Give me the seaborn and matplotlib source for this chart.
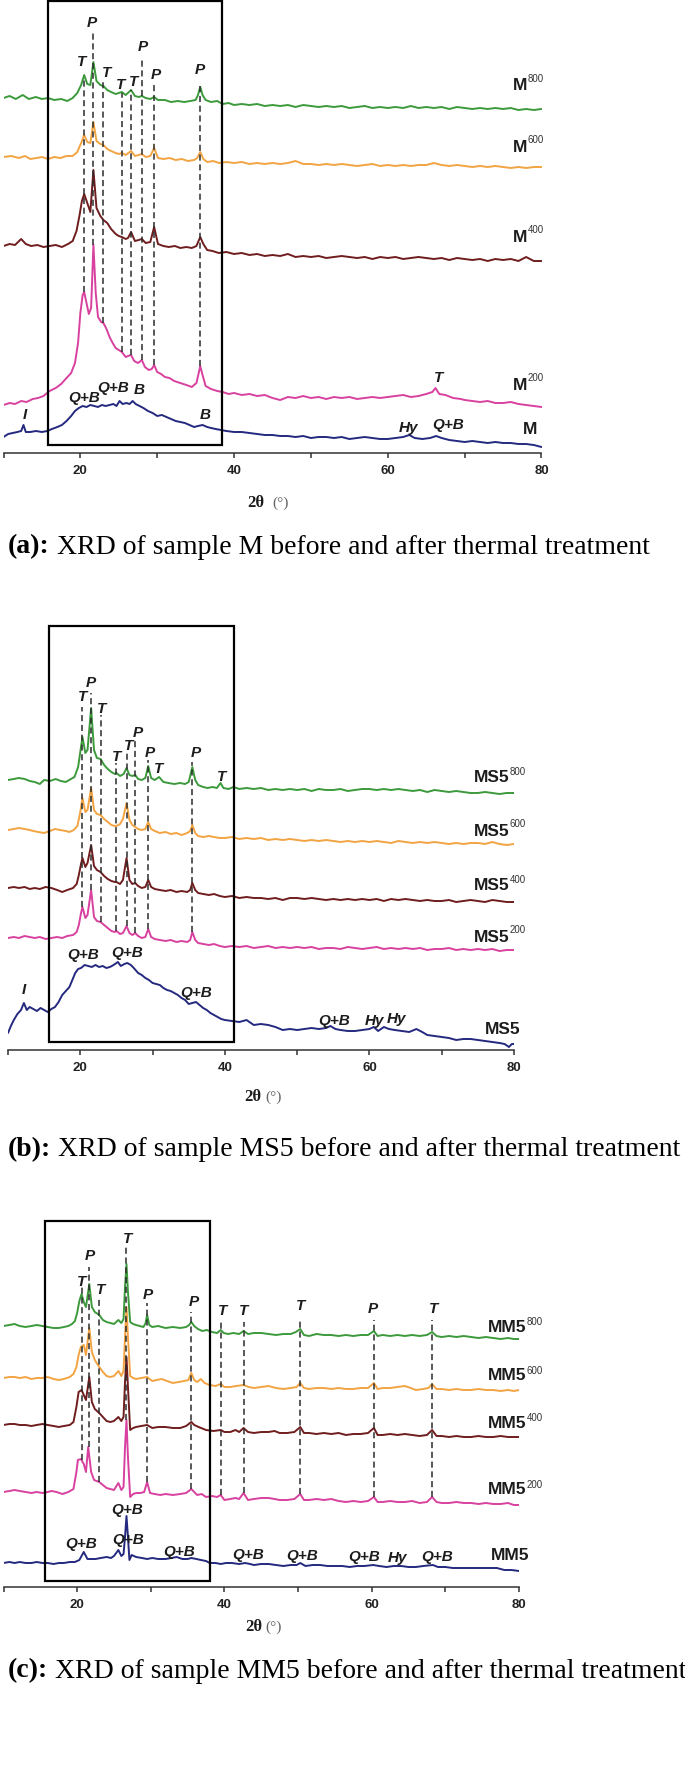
import matplotlib
matplotlib.use("Agg")
import matplotlib.pyplot as plt
import seaborn as sns
import pandas as pd
from matplotlib.patches import Rectangle

sns.set_theme(style="white")
plt.rcParams["font.family"] = ["Liberation Sans", "DejaVu Sans"]

# ---------------------------------------------------------------- data
# each pattern: (2theta in degrees, stacked intensity in arbitrary units)
A_M800 = [(10,355),(10.8,357),(11.6,354),(12.5,358),(13.3,354),(14.2,356),(15,354),(15.8,355),(16.6,353),(17.5,354),(18.3,352),(19,355),(19.6,360),(20.1,368),(20.5,378),(20.9,369),(21.3,368),(21.7,391),(22.1,372),(22.6,368),(23.0,367),(23.5,363),(24,361),(24.6,359),(25,360),(25.4,361),(25.9,358),(26.6,363),(27.1,357),(27.6,356),(28.0,357),(28.5,355),(29.1,354),(29.6,356),(30.1,353),(31,353),(31.8,351),(32.7,352),(33.5,351),(34.3,352),(35,353),(35.3,358),(35.6,366),(35.9,358),(36.3,353),(37,351),(37.8,352),(38.5,349),(39.3,350),(40,348),(41,349),(42,348),(43,349),(44,347),(45,348),(46,347),(47,348),(48,346),(49,348),(50,347),(51,346),(52,347),(53,346),(54,347),(55,345),(56,346),(57,347),(58,345),(59,346),(60,345),(61,346),(62,345),(63,347),(64,345),(65,346),(66,345),(67,346),(68,344),(69,346),(70,345),(71,344),(72,345),(73,344),(74,345),(75,344),(76,345),(77,343),(78,344),(79,343),(80,344)]
A_M600 = [(10,296),(11,297),(12,295),(12.8,297),(13.5,294),(14.3,295),(15,296),(15.8,294),(16.6,296),(17.4,295),(18.2,297),(19,297),(19.6,301),(20.1,310),(20.5,318),(20.9,311),(21.3,310),(21.7,331),(22.1,312),(22.6,309),(23.0,308),(23.5,304),(24,302),(24.6,300),(25,299),(25.4,300),(25.9,298),(26.6,302),(27.1,297),(27.6,298),(28.0,299),(28.5,296),(29.1,297),(29.6,305),(30.1,295),(30.8,294),(31.6,295),(32.4,293),(33.2,294),(34,292),(34.8,293),(35.2,295),(35.6,301),(36,294),(36.5,291),(37.3,292),(38,290),(39,291),(40,290),(41,291),(42,289),(43,290),(44,289),(45,290),(46,289),(47,290),(48,292),(49,289),(50,289),(51,288),(52,289),(53,288),(54,289),(55,288),(56,287),(57,288),(58,289),(59,287),(60,288),(61,287),(62,288),(63,287),(64,288),(65,288),(66,290),(67,288),(68,287),(69,288),(70,287),(71,286),(72,287),(73,286),(74,287),(75,286),(76,285),(77,286),(78,285),(79,286),(80,286)]
A_M400 = [(10,207),(10.8,209),(11.5,208),(12.3,214),(12.9,209),(13.6,207),(14.4,208),(15.2,206),(16,207),(16.8,208),(17.6,206),(18.4,209),(19,212),(19.5,222),(19.9,238),(20.2,252),(20.5,259),(20.9,250),(21.3,241),(21.7,283),(22.1,245),(22.6,237),(23.0,233),(23.5,230),(24,224),(24.6,219),(25,217),(25.4,216),(25.9,214),(26.2,215),(26.6,221),(27.1,212),(27.6,213),(28.0,214),(28.5,210),(29.1,211),(29.6,226),(30.1,209),(30.8,207),(31.5,206),(32.3,207),(33,205),(33.8,206),(34.5,205),(35.1,207),(35.6,216),(36,209),(36.5,203),(37.2,202),(38,200),(39,201),(40,199),(41,200),(42,198),(43,199),(44,197),(45,198),(46,197),(47,199),(48,196),(49,197),(50,196),(51,197),(52,195),(53,196),(54,197),(55,196),(56,195),(57,196),(58,194),(59,196),(60,195),(61,196),(62,194),(63,195),(64,196),(65,195),(66,194),(67,195),(68,193),(69,195),(70,194),(71,193),(72,194),(73,192),(74,194),(75,193),(76,194),(77,192),(78,196),(79,192),(80,192)]
A_M200 = [(10,48),(10.8,50),(11.5,49),(12.3,52),(13,51),(13.8,54),(14.5,55),(15.2,57),(16,62),(16.8,65),(17.5,69),(18.2,75),(18.8,80),(19.3,90),(19.7,110),(20.0,140),(20.3,158),(20.5,161),(20.8,150),(21.1,139),(21.4,145),(21.7,208),(22.0,160),(22.3,136),(22.7,131),(23.0,130),(23.4,124),(23.8,116),(24.2,110),(24.6,105),(25,103),(25.4,101),(25.9,96),(26.2,97),(26.6,98),(27.0,92),(27.5,90),(28.0,93),(28.4,86),(28.9,83),(29.3,84),(29.6,88),(30.0,81),(30.5,79),(31,76),(31.6,75),(32.2,72),(33,70),(33.8,68),(34.5,66),(35.1,70),(35.4,80),(35.6,87),(35.9,78),(36.3,67),(37,64),(37.8,62),(38.5,61),(39.3,59),(40,60),(41,58),(42,59),(43,57),(44,58),(45,55),(46,53),(47,56),(48,55),(49,57),(50,55),(51,56),(52,54),(53,56),(54,55),(55,56),(56,54),(57,55),(58,56),(59,55),(60,56),(61,57),(62,58),(63,56),(64,57),(65,59),(65.8,61),(66.2,65),(66.7,59),(67.5,58),(68.5,55),(69.5,54),(70,53),(71,52),(72,51),(73,52),(74,50),(75,50),(76,51),(77,49),(78,48),(79,47),(80,46)]
A_M = [(10,16),(10.6,19),(11.2,20),(11.8,21),(12.3,22),(12.6,28),(12.9,21),(13.5,21),(14.2,22),(15,21),(15.7,22),(16.3,24),(17,26),(17.6,28),(18.2,32),(18.8,37),(19.3,42),(19.8,45),(20.3,47),(20.8,46),(21.3,48),(21.8,47),(22.3,46),(22.8,48),(23.3,47),(23.8,48),(24.3,49),(24.7,47),(25.1,52),(25.5,49),(26.0,50),(26.4,49),(26.8,52),(27.2,49),(27.7,47),(28.2,45),(28.8,42),(29.4,40),(30,37),(30.6,38),(31.2,36),(31.8,34),(32.4,32),(33,31),(33.6,30),(34.2,28),(34.8,26),(35.3,27),(35.9,28),(36.5,26),(37,25),(37.6,24),(38.3,23),(39,22),(40,21),(41,21),(42,20),(43,19),(44,18),(45,18),(46,17),(47,17),(48,16),(49,17),(50,15),(51,16),(52,16),(53,15),(54,16),(55,14),(56,15),(57,16),(58,15),(59,14),(60,14),(61,15),(62,16),(62.8,18),(63.5,15),(64.5,14),(65.5,15),(66.3,17),(67,15),(68,13),(69,12),(70,11),(71,12),(72,11),(73,10),(74,11),(75,10),(76,10),(77,9),(78,9),(79,8),(80,6)]

B_MS800 = [(10,270),(10.8,271),(11.5,272),(12.3,271),(13,269),(13.7,268),(14.4,266),(15,270),(15.8,269),(16.6,271),(17.3,269),(18,268),(18.7,271),(19.2,273),(19.7,283),(20.0,298),(20.3,313),(20.7,297),(21.0,300),(21.5,342),(21.9,300),(22.3,292),(22.8,291),(23.3,285),(23.8,281),(24.3,278),(24.8,276),(25.0,277),(25.5,274),(26.0,276),(26.4,282),(26.8,275),(27.2,274),(27.6,275),(28.0,271),(28.5,270),(29.0,272),(29.4,284),(29.8,272),(30.3,270),(30.9,273),(31.5,268),(32.2,267),(33,266),(33.8,267),(34.5,266),(35.0,268),(35.5,283),(35.9,270),(36.3,265),(37,263),(37.6,262),(38.3,263),(38.9,262),(39.4,267),(39.8,262),(40.5,261),(41.2,263),(42,261),(43,262),(44,261),(45,262),(46,260),(47,261),(48,260),(49,261),(50,260),(51,261),(52,259),(53,261),(54,260),(55,260),(56,261),(57,259),(58,260),(59,261),(60,261),(61,260),(62,261),(63,260),(64,261),(65,260),(66,259),(67,260),(68,258),(69,260),(70,259),(71,258),(72,259),(73,258),(74,257),(75,257),(76,258),(77,257),(78,256),(79,257),(80,257)]
B_MS600 = [(10,220),(10.8,221),(11.5,222),(12.3,221),(13,220),(13.5,219),(14.2,218),(15,217),(15.8,219),(16.5,221),(17.2,220),(18,219),(18.5,218),(19.1,220),(19.6,224),(20.0,238),(20.3,252),(20.7,238),(21.0,240),(21.5,262),(21.9,240),(22.3,236),(22.8,235),(23.3,231),(23.8,228),(24.3,225),(24.8,224),(25.0,224),(25.5,226),(25.9,231),(26.4,247),(26.8,230),(27.2,225),(27.6,223),(28.0,221),(28.5,220),(29.0,221),(29.4,228),(29.8,221),(30.3,219),(31,217),(31.8,218),(32.5,216),(33.3,217),(34,215),(34.8,217),(35.2,219),(35.5,225),(35.9,217),(36.3,214),(37,213),(37.8,214),(38.5,213),(39.3,212),(40,212),(41,213),(42,211),(43,212),(44,211),(45,212),(46,210),(47,211),(48,210),(49,211),(50,210),(51,209),(52,210),(53,209),(54,210),(55,209),(56,208),(57,209),(58,208),(59,209),(60,208),(61,209),(62,208),(63,207),(64,209),(65,208),(66,207),(67,208),(68,207),(69,208),(70,207),(71,206),(72,207),(73,206),(74,207),(75,207),(76,206),(77,208),(78,206),(79,205),(80,206)]
B_MS400 = [(10,162),(10.8,163),(11.5,162),(12.3,163),(13,161),(13.7,162),(14.4,161),(15.2,163),(16,162),(16.8,160),(17.5,158),(18.2,160),(19,162),(19.5,166),(19.8,175),(20.1,186),(20.3,192),(20.7,183),(21.0,187),(21.5,205),(21.9,184),(22.3,180),(22.8,178),(23.3,174),(23.8,171),(24.3,169),(24.8,168),(25.0,168),(25.5,166),(25.9,170),(26.4,192),(26.8,170),(27.2,166),(27.6,167),(28.0,164),(28.5,162),(29.0,163),(29.4,170),(29.8,163),(30.3,161),(31,160),(31.8,159),(32.5,160),(33.3,158),(34,159),(34.8,158),(35.2,160),(35.5,167),(35.9,160),(36.3,157),(37,156),(37.8,155),(38.5,156),(39.3,154),(40,153),(41,154),(42,152),(43,153),(44,152),(45,152),(46,151),(47,152),(48,150),(49,152),(50,152),(51,151),(52,152),(53,151),(54,150),(55,151),(56,150),(57,151),(58,150),(59,151),(60,150),(61,151),(62,149),(63,151),(64,150),(65,151),(66,150),(67,149),(68,150),(69,149),(70,149),(71,150),(72,148),(73,149),(74,150),(75,149),(76,148),(77,150),(78,149),(79,148),(80,148)]
B_MS200 = [(10,112),(10.8,113),(11.5,112),(12.3,114),(13,113),(13.7,112),(14.4,113),(15.2,111),(16,112),(16.8,113),(17.5,112),(18.2,114),(19,115),(19.5,118),(19.8,125),(20.1,137),(20.3,143),(20.7,132),(21.0,135),(21.5,160),(21.9,133),(22.3,129),(22.8,128),(23.3,125),(23.8,122),(24.3,119),(24.8,118),(25.0,119),(25.5,116),(25.9,117),(26.4,124),(26.8,117),(27.2,115),(27.6,117),(28.0,114),(28.5,112),(29.0,113),(29.4,121),(29.8,113),(30.3,111),(31,110),(31.8,109),(32.5,110),(33.3,108),(34,109),(34.8,108),(35.2,110),(35.5,118),(35.9,110),(36.3,107),(37,106),(37.8,105),(38.5,106),(39.3,104),(40,103),(41,104),(42,103),(43,104),(44,102),(45,103),(46,104),(47,102),(48,103),(49,102),(50,103),(51,102),(52,103),(53,101),(54,102),(55,102),(56,101),(57,103),(58,102),(59,101),(60,102),(61,103),(62,101),(63,102),(64,101),(65,102),(66,101),(67,102),(68,100),(69,101),(70,101),(71,102),(72,100),(73,101),(74,100),(75,101),(76,100),(77,101),(78,99),(79,100),(80,100)]
B_MS5 = [(10,17),(10.4,24),(10.8,30),(11.3,36),(11.8,40),(12.2,47),(12.6,40),(13.0,43),(13.5,41),(14.0,39),(14.5,42),(15.0,40),(15.5,38),(16.0,41),(16.5,43),(17.0,48),(17.5,55),(18.0,59),(18.5,63),(18.9,70),(19.3,77),(19.7,81),(20.1,82),(20.6,85),(21.1,84),(21.6,83),(22.1,85),(22.6,83),(23.1,84),(23.6,82),(24.1,83),(24.6,85),(25.2,88),(25.6,84),(26.1,86),(26.5,87),(27.0,85),(27.4,82),(28.0,77),(28.5,75),(29.0,72),(29.5,70),(30.0,67),(30.5,66),(31.0,65),(31.5,62),(32.0,60),(32.5,59),(33.0,57),(33.5,55),(34.0,52),(34.5,50),(35.0,46),(35.5,47),(36.0,48),(36.5,45),(37.0,42),(37.5,40),(38.0,37),(38.5,35),(39.0,33),(39.5,31),(40.0,30),(41,29),(42,28),(43,30),(44,25),(45,26),(46,25),(47,23),(48,20),(49,21),(50,20),(51,21),(52,22),(53,21),(54,22),(54.6,24),(55.3,21),(56,20),(57,19),(58,19),(59,20),(60,21),(60.6,23),(61.2,19),(62,23),(62.7,21),(63.5,20),(64.5,19),(65.5,18),(66.5,21),(67.3,18),(68,15),(69,14),(70,13),(71,12),(72,10),(73,11),(74,11),(75,10),(76,9),(77,8),(78,7),(78.7,6),(79.3,3),(79.7,6),(80,6)]

C_MM800 = [(10,261),(10.8,262),(11.5,263),(12.2,261),(13,260),(13.8,261),(14.5,262),(15.3,261),(16,260),(16.8,259),(17.5,259),(18.2,260),(18.8,261),(19.3,263),(19.7,266),(20.0,274),(20.3,286),(20.6,293),(20.9,285),(21.2,280),(21.65,303),(22.0,280),(22.4,275),(23.0,272),(23.5,267),(24.0,265),(24.5,264),(25.0,263),(25.6,267),(26.0,264),(26.3,268),(26.5,300),(26.7,323),(26.9,295),(27.2,265),(27.6,263),(28,262),(28.5,261),(29.0,260),(29.3,264),(29.5,272),(29.8,262),(30.2,260),(31,261),(32,259),(33,260),(34,259),(34.8,260),(35.2,262),(35.5,265),(35.9,261),(36.4,258),(37,256),(37.6,257),(38.3,255),(39,254),(39.5,257),(39.9,254),(40.5,253),(41.2,254),(42,253),(42.6,256),(43.2,253),(44,254),(45,254),(46,253),(47,252),(48,253),(49,253),(49.7,255),(50.3,258),(50.8,252),(51.5,251),(52.5,253),(53.5,252),(54.5,252),(55.5,251),(56.5,252),(57.5,251),(58.5,252),(59.5,252),(60.3,256),(60.8,251),(61.5,252),(62.5,251),(63.5,252),(64.5,251),(65.5,252),(66.5,251),(67.5,252),(68.2,255),(68.8,251),(69.5,250),(70.5,251),(71.5,250),(72.5,251),(73.5,250),(74.5,249),(75.5,250),(76.5,249),(77.5,248),(78.5,249),(79.3,248),(80,248)]
C_MM600 = [(10,209),(10.8,210),(11.5,210),(12.2,209),(13,210),(13.8,208),(14.5,209),(15.3,209),(16,210),(16.8,208),(17.5,207),(18.2,208),(19.0,210),(19.5,213),(19.9,220),(20.2,232),(20.5,240),(20.9,242),(21.2,232),(21.65,259),(22.0,235),(22.4,227),(23.0,220),(23.5,215),(24,211),(24.5,210),(25,211),(25.6,216),(26.0,211),(26.3,216),(26.5,250),(26.7,280),(26.9,250),(27.2,211),(27.6,209),(28,208),(28.7,209),(29.5,210),(30.2,206),(30.8,207),(31.5,208),(32.2,206),(33,204),(33.8,205),(34.5,206),(35.1,207),(35.5,214),(35.9,207),(36.3,205),(36.8,208),(37.3,204),(38,202),(38.8,201),(39.5,203),(40,200),(40.8,200),(41.6,201),(42.6,202),(43.3,200),(44,199),(45,200),(46,201),(47,199),(48,198),(49,199),(49.8,200),(50.3,204),(50.8,199),(51.5,198),(52.5,199),(53.5,199),(54.5,198),(55.5,199),(56.5,198),(57.5,198),(58.5,199),(59.5,199),(60.3,204),(60.8,198),(61.5,199),(62.5,199),(63.5,200),(64.5,201),(65.3,199),(66,197),(67,198),(67.7,199),(68.2,203),(68.8,198),(69.5,198),(70.5,197),(71.5,198),(72.5,197),(73.5,197),(74.5,198),(75.5,197),(76.5,197),(77.5,196),(78.5,197),(79.3,196),(80,197)]
C_MM400 = [(10,162),(10.8,163),(11.5,163),(12.2,162),(13,162),(13.8,161),(14.5,162),(15.3,163),(16,162),(16.8,161),(17.5,160),(18.2,161),(19.0,162),(19.5,165),(19.9,180),(20.2,195),(20.6,197),(20.9,192),(21.2,187),(21.65,210),(22.0,185),(22.4,178),(23.0,174),(23.5,170),(24,166),(24.5,165),(25,166),(25.6,170),(26.0,166),(26.3,170),(26.5,205),(26.7,230),(26.9,200),(27.2,157),(27.6,159),(28,160),(28.7,161),(29.5,162),(30.2,159),(31,160),(32,160),(33,159),(34,159),(34.8,161),(35.5,165),(35.9,162),(36.5,160),(37.5,157),(38.5,156),(39.5,157),(40,155),(40.8,155),(41.5,157),(42.0,155),(42.6,159),(43.2,155),(44,154),(45,155),(46,155),(46.8,156),(47.5,154),(48.5,154),(49.5,155),(50.3,160),(50.8,154),(51.5,154),(52.5,153),(53.5,154),(54.5,153),(55.5,154),(56.5,152),(57.5,153),(58.5,153),(59.5,154),(60.3,159),(60.8,152),(61.5,152),(62.5,153),(63.5,152),(64.5,153),(65.5,152),(66.5,151),(67.5,152),(68.2,157),(68.8,151),(69.5,151),(70.5,150),(71.5,151),(72.5,150),(73.5,150),(74.5,151),(75.5,150),(76.5,150),(77.5,151),(78.5,150),(79.3,150),(80,150)]
C_MM200 = [(10,95),(10.8,96),(11.5,97),(12.2,96),(13,95),(13.8,94),(14.5,95),(15.3,94),(16,95),(16.5,96),(17.2,95),(18,93),(18.8,95),(19.5,98),(19.9,115),(20.1,127),(20.5,128),(20.9,123),(21.2,115),(21.5,140),(21.9,115),(22.3,107),(23.0,105),(23.5,102),(24,99),(24.5,98),(25,97),(25.6,104),(26.0,97),(26.3,100),(26.5,140),(26.7,167),(26.9,130),(27.2,90),(27.6,93),(28,94),(28.6,94),(29.1,95),(29.5,105),(29.9,94),(30.5,93),(31.3,92),(32,93),(33,92),(34,93),(34.8,94),(35.5,98),(35.9,95),(36.3,92),(36.9,93),(37.5,90),(38.3,91),(39,90),(39.5,92),(40,87),(40.8,88),(41.5,89),(42.0,88),(42.6,94),(43.2,87),(44,88),(45,89),(46,89),(46.8,88),(47.5,87),(48.5,87),(49.5,88),(50.3,93),(50.8,87),(51.5,87),(52.5,88),(53.5,87),(54.5,88),(55.5,86),(56.5,85),(57.5,86),(58.5,85),(59.5,86),(60.3,90),(60.8,85),(61.5,85),(62.5,86),(63.5,85),(64.5,85),(65.5,86),(66.5,84),(67.5,85),(68.2,90),(68.8,85),(69.5,84),(70.5,84),(71.5,85),(72.5,84),(73.5,84),(74.5,83),(75.5,84),(76.5,83),(77.5,83),(78.5,84),(79.3,82),(80,82)]
C_MM5 = [(10,24),(10.8,25),(11.5,24),(12.2,25),(13,24),(13.8,24),(14.5,25),(15.3,24),(16,24),(16.8,23),(17.5,24),(18.2,24),(19,25),(19.7,25),(20.3,27),(20.9,35),(21.4,28),(22.0,28),(22.5,28),(23.2,29),(24,30),(24.6,29),(25,31),(25.6,37),(26.0,31),(26.3,33),(26.5,50),(26.7,71),(26.9,50),(27.1,27),(27.4,32),(28,30),(28.8,29),(29.5,28),(30.2,29),(31,28),(32,28),(32.8,29),(33.5,30),(34.3,28),(35,28),(35.5,29),(36.2,28),(36.8,27),(37.5,26),(38,24),(38.8,24),(39.5,23),(40.2,24),(41,24),(42,23),(42.8,24),(43.5,23),(44,22),(45,23),(46,23),(47,22),(48,21),(49,22),(49.8,22),(50.3,24),(51,21),(52,22),(53,22),(54,21),(55,21),(56,21),(57,20),(58,21),(59,21),(60.2,22),(61,21),(62,20),(63,21),(64,21),(65,20),(66,20),(67,21),(68.3,22),(69,20),(70,20),(71,19),(72,19),(73,19),(74,19),(75,19),(76,19),(77,19),(78,17),(79,17),(80,16)]

# reflection markers: (x in degrees, upper end, lower end)
A_DROP = [(20.5,373,161),(21.7,420,208),(23.0,373,130),(25.4,360,101),(26.6,363,98),(28.0,393,93),(29.6,370,88),(35.6,368,87)]
B_DROP = [(20.3,343,143),(21.5,357,160),(22.8,335,128),(25.0,287,119),(26.4,297,124),(27.6,310,117),(29.4,290,121),(35.5,288,118)]
C_DROP = [(20.7,300,127),(21.65,320,140),(23.0,290,105),(26.7,340,167),(29.5,284,105),(35.5,275,98),(39.5,265,92),(42.6,265,94),(50.3,267,93),(60.3,267,90),(68.2,267,90)]

# phase labels: (text, x in degrees, height)
A_PHASE = [("T",20.2,391),("P",21.5,430),("T",23.4,380),("T",25.3,368),("T",26.9,371),("P",28.1,406),("P",29.8,378),("P",35.5,383),
           ("T",66.6,75),("Q+B",20.5,55),("Q+B",24.3,65),("B",27.6,63),("B",36.3,38),("I",12.8,38),("Hy",62.7,25),("Q+B",67.8,28)]
B_PHASE = [("T",20.3,353),("P",21.5,367),("T",23.0,341),("T",25.0,293),("T",26.7,304),("P",27.9,317),("P",29.6,297),("T",30.9,281),
           ("P",36.0,297),("T",39.5,273),("Q+B",20.4,95),("Q+B",26.5,97),("Q+B",36.0,57),("I",12.2,60),("Q+B",55.1,29),
           ("Hy",60.7,29),("Hy",63.7,31)]
C_PHASE = [("T",20.6,305),("P",21.7,331),("T",23.2,297),("T",26.8,348),("P",29.6,292),("P",35.8,285),("T",39.7,276),("T",42.6,276),
           ("T",50.4,281),("P",60.1,278),("T",68.4,278),("Q+B",20.6,43),("Q+B",26.8,77),("Q+B",26.9,47),("Q+B",33.8,35),
           ("Q+B",43.2,32),("Q+B",50.5,31),("Q+B",59.0,30),("Hy",63.5,29),("Q+B",68.9,30)]

# curve names: (name, temperature superscript, label height, superscript height)
A_NAMES = [("M","800",367,374),("M","600",306,313),("M","400",215,223),("M","200",67,75),("M","",23,23)]
B_NAMES = [("MS5","800",272,278),("MS5","600",219,226),("MS5","400",164,170),("MS5","200",113,120),("MS5","",21,21)]
C_NAMES = [("MM5","800",260,265),("MM5","600",211,216),("MM5","400",164,169),("MM5","200",97,102),("MM5","",32,32)]

A_BOX = (15.85, 38.4, 8, 452)
B_BOX = (15.7, 41.3, 8, 424)
C_BOX = (15.6, 38.1, 6, 366)

CAPTIONS = [("(a):", " XRD of sample M before and after thermal treatment"),
            ("(b):", " XRD of sample MS5 before and after thermal treatment"),
            ("(c):", " XRD of sample MM5 before and after thermal treatment")]

MAJOR_TICKS = [20, 40, 60, 80]
MINOR_TICKS = [10, 30, 50, 70]

# ---------------------------------------------------------------- styling
W, H = 685, 1775
COLORS = ["#3c9a3c", "#f2a443", "#6f1d1e", "#d8419f", "#24297f"]
SANS = ["Liberation Sans", "DejaVu Sans"]
SERIF = ["Liberation Serif", "DejaVu Serif"]

fig = plt.figure(figsize=(W / 100, H / 100), dpi=100)
fig.patch.set_facecolor("white")

panels = [
    dict(px=(3.5, 541.5, 453, 0), curves=[A_M800, A_M600, A_M400, A_M200, A_M], drops=A_DROP, phases=A_PHASE,
         names=A_NAMES, name_x=(78.2, 79.5), box=A_BOX, xlab=(264, 272, 503), cap_y=547),
    dict(px=(8, 514, 1050, 610), curves=[B_MS800, B_MS600, B_MS400, B_MS200, B_MS5], drops=B_DROP, phases=B_PHASE,
         names=B_NAMES, name_x=(79.4, 80.9), box=B_BOX, xlab=(261, 265, 1097), cap_y=1150),
    dict(px=(3.5, 519, 1587, 1210), curves=[C_MM800, C_MM600, C_MM400, C_MM200, C_MM5], drops=C_DROP, phases=C_PHASE,
         names=C_NAMES, name_x=(81.0, 81.4), box=C_BOX, xlab=(262, 265, 1627), cap_y=1671),
]

renderer = fig.canvas.get_renderer()

for i, p in enumerate(panels):
    L, R, Y0, T = p["px"]
    ax = fig.add_axes([L / W, 1 - Y0 / H, (R - L) / W, (Y0 - T) / H])
    ax.patch.set_alpha(0)
    ax.set_xlim(10, 80)
    ax.set_ylim(0, Y0 - T)

    rows = []
    for k, pts in enumerate(p["curves"]):
        for x, y in pts:
            rows.append((f"s{k}", x, y))
    df = pd.DataFrame(rows, columns=["sample", "deg", "h"])
    sns.lineplot(data=df, x="deg", y="h", hue="sample", palette=dict(zip([f"s{k}" for k in range(5)], COLORS)),
                 estimator=None, sort=False, legend=False, lw=1.4, ax=ax, zorder=3)

    xs = [d[0] for d in p["drops"]]
    ax.vlines(xs, [d[2] for d in p["drops"]], [d[1] for d in p["drops"]], colors="#2b2b2b",
              linestyles=(0, (4.0, 2.4)), lw=1.1, zorder=4)

    x0, x1, y0, y1 = p["box"]
    ax.add_patch(Rectangle((x0, y0), x1 - x0, y1 - y0, fill=False, ec="black", lw=1.6, clip_on=False, zorder=5))

    for s, x, y in p["phases"]:
        ax.text(x, y, s, ha="center", va="center", fontsize=11, fontweight="bold", fontstyle="italic",
                color="#1c1c1c", family=SANS, zorder=6)

    nx, nx0 = p["name_x"]
    for name, sup, hy, sy in p["names"]:
        if sup:
            ax.text(nx, hy, name, ha="right", va="center", fontsize=12.5, fontweight="bold", color="#1c1c1c",
                    family=SANS, clip_on=False)
            ax.text(nx, sy, sup, ha="left", va="center", fontsize=7, color="#333333", family=SANS, clip_on=False)
        else:
            ax.text(nx0, hy, name, ha="right", va="center", fontsize=12.5, fontweight="bold", color="#1c1c1c",
                    family=SANS, clip_on=False)

    for s in ["left", "right", "top"]:
        ax.spines[s].set_visible(False)
    ax.spines["bottom"].set_color("#333333")
    ax.spines["bottom"].set_linewidth(1.1)
    ax.set_xticks(MAJOR_TICKS)
    ax.set_xticks(MINOR_TICKS, minor=True)
    ax.set_xticklabels([str(t) for t in MAJOR_TICKS])
    ax.set_yticks([])
    ax.tick_params(axis="x", which="both", bottom=True, direction="out", length=3.8, width=1.1, color="#333333",
                   pad=5, labelsize=9.5, labelcolor="#222222")
    for lab in ax.get_xticklabels():
        lab.set_fontweight("bold")
        lab.set_family(SANS)
    ax.set_xlabel("")
    ax.set_ylabel("")

    rx, lx, ly = p["xlab"]
    fig.text(rx / W, 1 - ly / H, "2θ", ha="right", va="center", fontsize=12, fontweight="bold", family=SERIF,
             color="#1c1c1c")
    fig.text(lx / W, 1 - ly / H, "(°)", ha="left", va="center", fontsize=11, family=SERIF, color="#666666")

    bold, rest = CAPTIONS[i]
    t1 = fig.text(8 / W, 1 - p["cap_y"] / H, bold, ha="left", va="center", fontsize=20, fontweight="bold",
                  family=SERIF, color="black")
    bb = t1.get_window_extent(renderer)
    fig.text(bb.x1 / W, 1 - p["cap_y"] / H, rest, ha="left", va="center", fontsize=20, family=SERIF, color="black")

fig.savefig("out.png", dpi=100, facecolor="white")
